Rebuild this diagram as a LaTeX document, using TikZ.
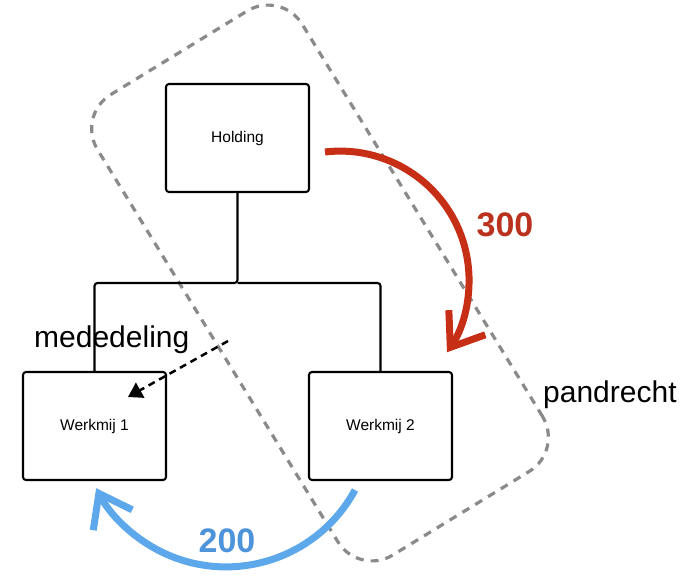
\documentclass[tikz,border=0pt]{standalone}
\usepackage{fontspec}
\setmainfont{Liberation Sans}
\usetikzlibrary{arrows.meta}
\definecolor{redarr}{RGB}{198,46,22}
\definecolor{redtxt}{RGB}{186,50,30}
\definecolor{bluearr}{RGB}{92,168,234}
\definecolor{bluetxt}{RGB}{78,148,218}
\definecolor{dashgray}{RGB}{138,138,138}
\tikzset{
  orgbox/.style={draw, line width=2.1, rounded corners=3, minimum width=143, minimum height=108,
    inner sep=0, font=\fontsize{15.5}{18}\selectfont},
  conn/.style={line width=2.1, rounded corners=3},
  region/.style={draw=dashgray, line width=3.2, dash pattern=on 8pt off 7pt, rounded corners=40,
    minimum width=540, minimum height=240, inner sep=0},
  flowred/.style={draw=redarr, line width=7, -{Straight Barb[length=30pt,width=44pt]}},
  flowblue/.style={draw=bluearr, line width=7, -{Straight Barb[length=30pt,width=44pt]}},
  notice/.style={line width=2.5, dash pattern=on 7pt off 5pt, -{Triangle[length=14pt,width=17pt]}},
  biglabel/.style={font=\fontsize{30}{34}\selectfont, inner sep=0},
  amount/.style={font=\fontsize{34}{38}\selectfont\bfseries, inner sep=0}
}
\begin{document}
\begin{tikzpicture}[x=1pt,y=-1pt]
\useasboundingbox (0,0) rectangle (685,580);
\node[region, rotate=-58.5] (pand) at (320,283) {};
\node[orgbox] (hold) at (237.5,138) {Holding};
\node[orgbox] (w1) at (94.5,426) {Werkmij 1};
\node[orgbox] (w2) at (380.5,426) {Werkmij 2};
\coordinate (j) at (237.5,283);
\draw[conn] (hold.south) -- (j) -| (w1.north);
\draw[conn] (j) -| (w2.north);
\node[biglabel, anchor=base west] (med) at (34,347) {mededeling};
\node[biglabel, anchor=base west] (pr) at (543,402) {pandrecht};
\coordinate (ms) at (228,341);
\coordinate (me) at (128,397);
\draw[notice] (ms) -- (me);
\coordinate (rs) at (325,152);
\draw[flowred] (rs) arc[start angle=-96.7, end angle=34, radius=129];
\node[amount, text=redtxt] (l300) at (505,225) {300};
\coordinate (bs) at (355,490);
\draw[flowblue] (bs) arc[start angle=28.4, end angle=152.4, radius=146.6];
\node[amount, text=bluetxt] (l200) at (227,541) {200};
\end{tikzpicture}
\end{document}
